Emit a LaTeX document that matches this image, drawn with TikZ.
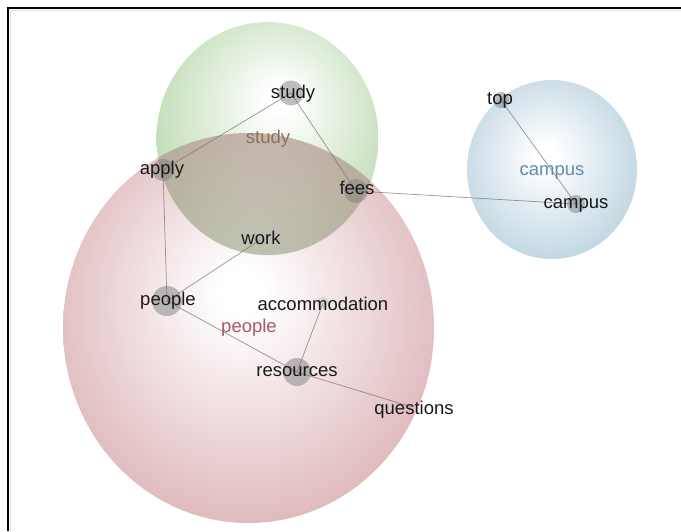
\documentclass[tikz,border=0pt]{standalone}
\usepackage{fontspec}
\setmainfont{Liberation Sans}
\definecolor{redc}{HTML}{C47E84}
\definecolor{greenc}{HTML}{8CC078}
\definecolor{bluec}{HTML}{8CB4C9}
\definecolor{shadec}{HTML}{4A3C20}
\definecolor{studylbl}{HTML}{8B7358}
\definecolor{peoplelbl}{HTML}{A8585E}
\definecolor{campuslbl}{HTML}{5F8FAE}
\pgfdeclareradialshading{redbub}{\pgfpoint{-1bp}{5bp}}{color(0bp)=(white); color(3bp)=(white); color(28bp)=(redc!55!white); color(49bp)=(redc)}
\pgfdeclareradialshading{greenbub}{\pgfpoint{3bp}{9bp}}{color(0bp)=(white); color(3bp)=(white); color(30bp)=(greenc!58!white); color(52bp)=(greenc)}
\pgfdeclareradialshading{bluebub}{\pgfpoint{-2bp}{4bp}}{color(0bp)=(white); color(3bp)=(white); color(28bp)=(bluec!55!white); color(49bp)=(bluec)}
\tikzset{
  dot/.style={circle, fill=black!50, fill opacity=0.5, draw=none, inner sep=0pt},
  faintdot/.style={circle, fill=black!30, fill opacity=0.35, draw=none, inner sep=0pt},
  link/.style={draw=black!55, line width=0.7pt, opacity=0.75},
  word/.style={inner sep=0pt, text height=13pt, text depth=4pt, font=\fontsize{18.5}{20}\selectfont, text=black!90},
  cluster/.style={inner sep=0pt, text height=13pt, text depth=4pt, font=\fontsize{18.5}{20}\selectfont}
}
\begin{document}
\begin{tikzpicture}[x=1pt,y=-1pt]
\useasboundingbox (0,0) rectangle (681,531);
% bubbles
\shade[shading=redbub] (248.5,328) ellipse [x radius=185.5, y radius=195];
\shade[shading=greenbub] (267.5,138.5) ellipse [x radius=111, y radius=116.5];
\shade[shading=bluebub] (552,169.5) ellipse [x radius=85, y radius=89.5];
% overlap of study and people bubbles
\begin{scope}
  \clip (248.5,328) ellipse [x radius=185.5, y radius=195];
  \clip (267.5,138.5) ellipse [x radius=111, y radius=116.5];
  \shade[shading=redbub, opacity=0.6] (248.5,328) ellipse [x radius=185.5, y radius=195];
  \fill[shadec, opacity=0.24] (150,130) rectangle (390,260);
\end{scope}
% frame
\draw[black!12, line width=1pt] (10.5,531) -- (10.5,10.5) -- (681,10.5);
\draw[line width=1.5pt] (8,531) -- (8,8) -- (681,8);
% node dots
\node[dot, minimum size=25pt] (study) at (291,93) {};
\node[dot, minimum size=22pt] (apply) at (163,170) {};
\node[dot, minimum size=24pt] (fees) at (356,191) {};
\node[faintdot, minimum size=12pt] (work) at (260,240) {};
\node[dot, minimum size=30pt] (people) at (167,301) {};
\node[faintdot, minimum size=12pt] (accommodation) at (323,303) {};
\node[dot, minimum size=28pt] (resources) at (297,372) {};
\node[dot, minimum size=16pt] (top) at (501,100) {};
\node[dot, minimum size=18pt] (campus) at (576,204) {};
\coordinate (questions) at (412,407);
% links
\draw[link] (study.center) -- (apply.center);
\draw[link] (study.center) -- (fees.center);
\draw[link] (apply.center) -- (people.center);
\draw[link] (people.center) -- (work.center);
\draw[link] (fees.center) -- (campus.center);
\draw[link] (top.center) -- (campus.center);
\draw[link] (people.center) -- (resources.center);
\draw[link] (accommodation.center) -- (resources.center);
\draw[link] (resources.center) -- (questions);
% cluster labels
\node[cluster, text=studylbl] (lstudyc) at (268,139) {study};
\node[cluster, text=peoplelbl] (lpeoplec) at (249,328) {people};
\node[cluster, text=campuslbl] (lcampusc) at (552,171) {campus};
% word labels
\node[word] (lstudy) at (293,94) {study};
\node[word] (lapply) at (162,170) {apply};
\node[word] (lfees) at (357,190) {fees};
\node[word] (lwork) at (261,240) {work};
\node[word] (lpeople) at (168,301) {people};
\node[word] (laccom) at (323,306) {accommodation};
\node[word] (lres) at (297,372) {resources};
\node[word] (lquest) at (414,410) {questions};
\node[word] (ltop) at (500,100) {top};
\node[word] (lcampus) at (576,204) {campus};
\end{tikzpicture}
\end{document}
